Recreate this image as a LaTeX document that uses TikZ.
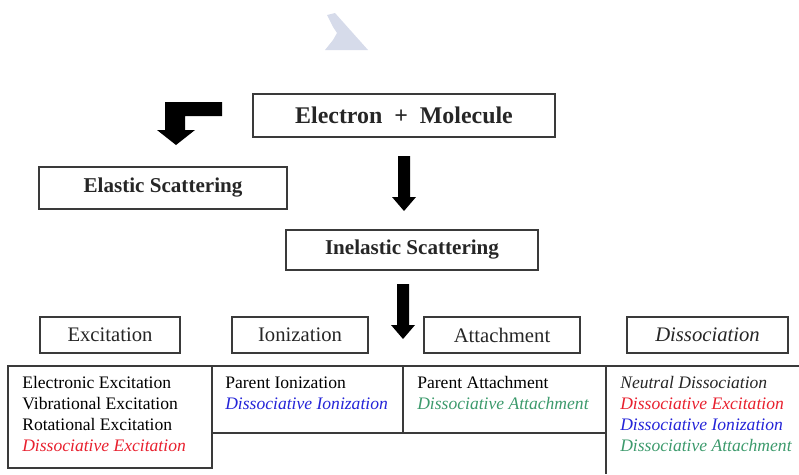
\documentclass[tikz,border=0pt]{standalone}
\usepackage{fontspec}
\setmainfont{Liberation Serif}

\begin{document}
\begin{tikzpicture}[x=0.025cm,y=-0.025cm,
    box/.style={draw=boxGray,line width=1.1pt,inner sep=0pt,text=black!85},
    head/.style={box,minimum height=0.9cm,font=\fontsize{14.7}{16}\selectfont},
    title/.style={box,font=\bfseries\fontsize{15}{17}\selectfont},
    item/.style={anchor=base west,inner sep=0pt,font=\fontsize{12.5}{15}\selectfont}]
% Colors define
\definecolor{boxGray}{HTML}{3A3A3A}
\definecolor{myRed}{HTML}{E8202E}
\definecolor{myBlue}{HTML}{2424D8}
\definecolor{myGreen}{HTML}{3C9A6C}
\definecolor{myMark}{HTML}{D6DBEA}

% Frame of the picture
\useasboundingbox (0,0) rectangle (799,474);

% Faint mark at the top
\fill[myMark] (327,15) -- (335,13) -- (368,50) -- (325,50) -- (333,40) -- (337,33) -- (333,27) -- cycle;

% Boxes of the flow
\node[box,minimum width=7.55cm,minimum height=1.075cm,font=\bfseries\fontsize{17}{20}\selectfont]
    (emol) at (404,115.5) {Electron~~+~~Molecule};
\node[title,minimum width=6.2cm,minimum height=1.05cm] (elastic) at (163,188) {Elastic Scattering};
\node[title,minimum width=6.3cm,minimum height=1cm] (inelastic) at (412,250) {Inelastic Scattering};

% Heads of the columns
\node[head,minimum width=3.5cm] (excit) at (110,335) {Excitation};
\node[head,minimum width=3.4cm] (ioniz) at (300,335) {Ionization};
\node[head,minimum width=3.9cm] (attach) at (502,335) {Attachment};
\node[head,minimum width=4.025cm] (dissoc) at (707.5,335) {\itshape Dissociation};

% Block arrows
\fill (222,102) -- (165,102) -- (165,130) -- (157,130) -- (176,145) -- (195,130)
    -- (185,130) -- (185,116) -- (222,116) -- cycle;
\foreach \x/\y in {404/156,403/284}
    \fill (\x-6,\y) -- (\x+6,\y) -- (\x+6,\y+41) -- (\x+12,\y+41) -- (\x,\y+55)
        -- (\x-12,\y+41) -- (\x-6,\y+41) -- cycle;

% Cells of the table
\draw[boxGray,line width=1.1pt] (8,366) rectangle (212,468);
\draw[boxGray,line width=1.1pt] (212,366) -- (799,366);
\draw[boxGray,line width=1.1pt] (212,433) -- (606,433);
\draw[boxGray,line width=1.1pt] (403,366) -- (403,433);
\draw[boxGray,line width=1.1pt] (606,366) -- (606,474);

% Texts of the cells
\foreach \txt/\col [count=\i] in {Electronic Excitation/black,Vibrational Excitation/black,
    Rotational Excitation/black,\itshape Dissociative Excitation/myRed}
    \node[item,text=\col] (ex\i) at (22,367+21*\i) {\txt};
\foreach \txt/\col [count=\i] in {Parent Ionization/black,\itshape Dissociative Ionization/myBlue}
    \node[item,text=\col] (io\i) at (225,367+21*\i) {\txt};
\foreach \txt/\col [count=\i] in {Parent Attachment/black,\itshape Dissociative Attachment/myGreen}
    \node[item,text=\col] (at\i) at (417,367+21*\i) {\txt};
\foreach \txt/\col [count=\i] in {Neutral Dissociation/black!85,Dissociative Excitation/myRed,
    Dissociative Ionization/myBlue,Dissociative Attachment/myGreen}
    \node[item,text=\col,font=\itshape\fontsize{12.5}{15}\selectfont] (di\i) at (620,367+21*\i) {\txt};
\end{tikzpicture}
\end{document}
